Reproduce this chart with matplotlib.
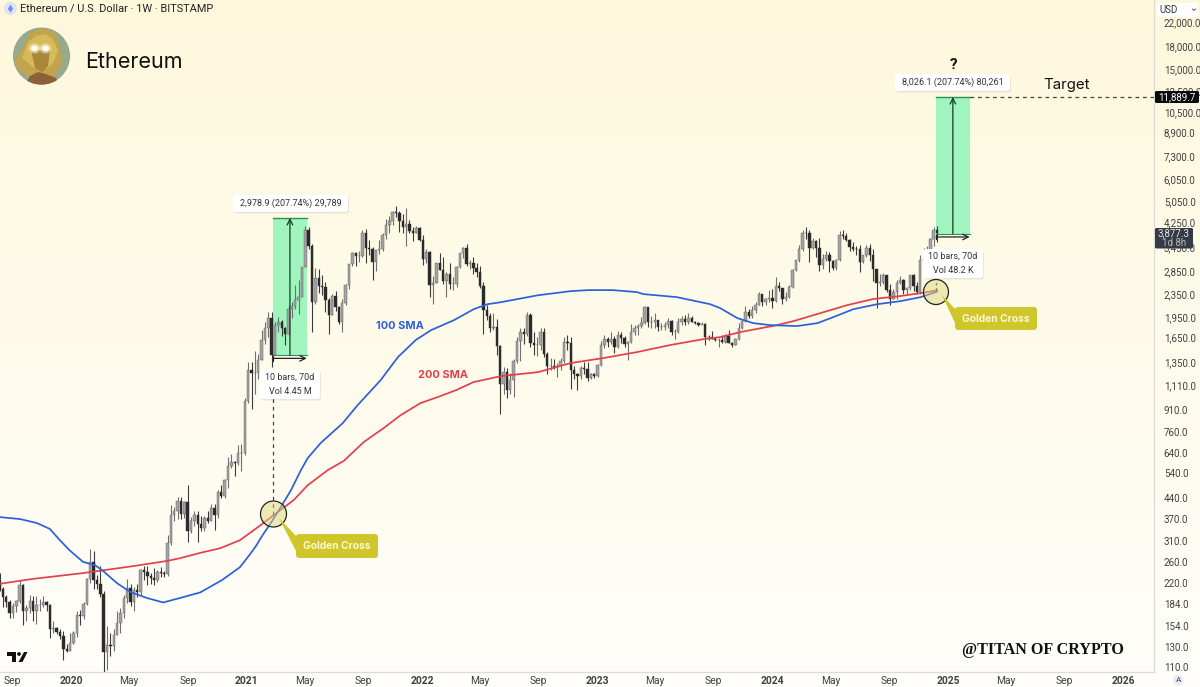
import numpy as np
import pandas as pd
import matplotlib
matplotlib.use("Agg")
import matplotlib.pyplot as plt
import matplotlib.dates as mdates
from matplotlib.patches import Circle, FancyBboxPatch, Polygon, Ellipse
from matplotlib.ticker import FixedLocator, NullLocator

plt.rcParams['font.family'] = ['Roboto', 'DejaVu Sans']

# weekly closes, estimated off the chart
close_2019 = [208,195,187,172,181,189,215,174,178,190,175,183,183,187,183,150,151,147,142,128,126,134]
close_2020 = [146,169,167,184,227,260,224,218,200,124,132,131,143,158,171,194,211,188,207,204,245,240,233,228,225,241,239,236,305,385,395,430,388,428,335,365,385,355,345,375,365,405,385,465,450,510,575,595,590,640,640,975]
close_2021 = [1260,1230,1230,1375,1610,1780,1935,1432,1835,1880,1790,1700,2080,2135,2240,2300,2950,4000,3500,2200,2700,2510,2500,2240,1990,2320,2120,1880,2190,2530,3010,3310,3220,3225,3885,3430,3400,3060,3380,3410,3830,4170,4300,4610,4570,4300,4100,4200,3960,3900,4060,3680]
close_2022 = [3150,3330,2530,2590,3040,2880,2630,2780,2560,2570,2940,3290,3450,3010,3040,2920,2830,2520,2060,1970,1790,1800,1540,1130,1240,1070,1160,1360,1600,1720,1700,1980,1580,1550,1550,1720,1440,1310,1310,1290,1300,1360,1590,1580,1260,1220,1200,1280,1270,1180,1220,1200]
close_2023 = [1320,1550,1630,1590,1630,1520,1690,1640,1560,1590,1730,1780,1820,1860,2120,1870,1880,1900,1800,1800,1830,1890,1720,1720,1880,1920,1870,1930,1880,1860,1830,1850,1660,1650,1630,1620,1620,1590,1670,1580,1550,1630,1780,1890,2040,1960,2060,2160,2350,2200,2270,2290]
close_2024 = [2220,2510,2470,2260,2300,2500,2880,3110,3420,3890,3880,3450,3640,3450,3000,3140,3250,3100,2910,3120,3830,3810,3680,3480,3420,3410,3070,3240,3440,3250,2900,2580,2610,2750,2430,2270,2400,2580,2650,2440,2470,2750,2510,2400,3120,3130,3360,3700,3990,3877.3]

high_2019 = [238,213,198,191,186,191,225,217,183,199,197,197,193,197,190,185,160,153,150,148,133,145]
high_2020 = [148,175,176,187,229,290,285,235,252,205,154,146,150,175,178,198,227,217,212,218,246,253,252,238,248,245,250,243,325,416,410,445,445,430,490,378,395,395,380,380,395,420,420,470,490,515,620,635,600,680,690,1000]
high_2021 = [1345,1350,1475,1440,1760,1870,2040,2040,1880,1945,1900,1800,2150,2200,2545,2640,2950,4120,4080,3560,2910,2890,2750,2600,2290,2360,2420,2140,2260,2550,3020,3330,3340,3370,3980,4020,3660,3460,3380,3660,3890,4380,4470,4670,4870,4670,4550,4780,4330,4080,4120,4100]
high_2022 = [3830,3410,3360,2730,3040,3290,3200,2830,3040,2710,2960,3300,3480,3550,3120,3190,3030,2960,2600,2160,2020,2020,1920,1550,1290,1280,1230,1380,1650,1780,1790,2030,2020,1720,1660,1790,1790,1470,1390,1380,1340,1390,1660,1680,1660,1300,1230,1310,1350,1350,1230,1230]
high_2023 = [1330,1600,1680,1660,1720,1670,1740,1720,1670,1600,1850,1830,1840,1950,2140,2125,1970,2020,1900,1860,1870,1930,1900,1770,1930,1960,1980,2020,1960,1890,1880,1870,1860,1680,1740,1660,1640,1680,1700,1750,1590,1640,1860,1900,2130,2090,2140,2200,2390,2350,2290,2440]
high_2024 = [2450,2715,2600,2480,2400,2540,2890,3130,3520,3990,4090,3980,3730,3680,3730,3280,3350,3340,3130,3150,3950,3980,3890,3720,3620,3490,3520,3260,3520,3560,3400,2790,2780,2800,2760,2560,2460,2640,2730,2670,2500,2760,2770,2610,3240,3450,3500,3740,4090,4110]

low_2019 = [205,180,180,165,165,173,186,155,160,172,160,157,175,180,174,140,146,144,138,117,124,125]
low_2020 = [133,141,155,163,183,220,208,208,195,92,107,120,125,143,145,165,186,181,175,196,198,225,215,217,216,222,230,231,233,300,365,370,370,375,308,330,350,308,335,335,360,365,340,375,440,440,480,565,530,580,550,630]
low_2021 = [960,920,1040,1170,1370,1560,1650,1290,1430,1730,1670,1550,1690,1930,2090,2000,2300,2940,3400,1730,2170,2380,2330,2030,1700,1990,2050,1840,1720,2160,2460,2970,2960,3060,3200,3050,3250,2650,2850,3280,3350,3720,3900,4150,4450,3920,3900,3500,3880,3640,3900,3640]
low_2022 = [3000,3050,2300,2170,2580,2860,2560,2300,2450,2440,2500,2920,3170,2970,2890,2790,2710,2480,1700,1900,1720,1750,1430,880,1040,1000,1040,1010,1340,1360,1560,1670,1530,1430,1420,1490,1410,1220,1260,1270,1190,1260,1340,1490,1080,1170,1070,1170,1220,1150,1170,1180]
low_2023 = [1190,1310,1510,1530,1560,1450,1510,1580,1530,1370,1570,1680,1680,1790,1850,1800,1780,1780,1740,1760,1760,1780,1690,1630,1710,1830,1830,1850,1870,1840,1810,1840,1550,1610,1630,1600,1530,1570,1570,1570,1520,1550,1620,1770,1880,1930,1930,2020,2160,2140,2150,2210]
low_2024 = [2100,2200,2420,2170,2230,2290,2470,2850,3060,3350,3720,3060,3420,3200,2850,2900,3100,2820,2860,2860,3100,3700,3650,3360,3350,3240,2820,3050,3200,3080,2630,2110,2510,2570,2400,2150,2260,2270,2560,2350,2350,2430,2420,2360,2360,3000,3030,3350,3500,3600]

first_open = 222

sma100_dates = ['2019-08-06','2019-09-17','2019-10-22','2019-11-18','2019-12-05','2019-12-29','2020-01-26','2020-02-20','2020-03-08','2020-04-06','2020-05-03','2020-06-07','2020-07-11','2020-08-15','2020-09-26','2020-11-11','2020-12-18','2021-01-08','2021-01-20','2021-02-03','2021-02-20','2021-03-13','2021-04-03','2021-04-24','2021-05-08','2021-06-04','2021-07-20','2021-08-20','2021-10-07','2021-11-12','2021-12-19','2022-01-20','2022-03-09','2022-04-19','2022-05-18','2022-06-15','2022-08-31','2022-11-07','2022-12-13','2023-02-03','2023-03-25','2023-04-07','2023-06-16','2023-08-24','2023-09-14','2023-10-20','2023-11-22','2023-12-27','2024-02-22','2024-04-04','2024-05-07','2024-06-18','2024-08-07','2024-09-24','2024-11-05','2024-12-09']
sma100_vals = [377,371,359,342,317,287,261,254,242,219,204,194,187,194,203,225,250,278,297,325,359,409,470,555,612,693,816,946,1162,1404,1615,1752,1903,2082,2169,2205,2334,2414,2434,2434,2395,2356,2298,2169,2101,1934,1856,1826,1812,1856,1950,2082,2169,2224,2298,2405]
sma200_dates = ['2019-08-06','2019-10-14','2020-01-26','2020-05-09','2020-07-19','2020-08-15','2020-09-26','2020-11-07','2020-12-18','2021-01-30','2021-02-26','2021-04-09','2021-05-08','2021-06-19','2021-07-22','2021-09-02','2021-10-13','2021-11-18','2021-12-29','2022-02-03','2022-03-13','2022-04-19','2022-06-15','2022-08-31','2022-11-07','2023-01-13','2023-03-25','2023-06-02','2023-08-10','2023-09-14','2023-10-26','2024-01-11','2024-02-14','2024-04-10','2024-06-05','2024-07-29','2024-09-24','2024-11-05','2024-12-09']
sma200_vals = [218,227,238,252,263,269,281,292,312,353,383,434,490,555,598,699,783,872,962,1011,1070,1144,1201,1241,1337,1392,1463,1550,1627,1654,1724,1826,1887,2015,2152,2262,2319,2375,2430]

price_ticks = [22000,18000,15000,12500,10500,8900,7300,6050,5050,4250,3450,2850,2350,1950,1650,1350,1110,910,760,640,540,440,370,310,260,220,184,154,130,110]
x_tick_dates = ['2019-09-01','2020-01-01','2020-05-01','2020-09-01','2021-01-01','2021-05-01','2021-09-01','2022-01-01','2022-05-01','2022-09-01','2023-01-01','2023-05-01','2023-09-01','2024-01-01','2024-05-01','2024-09-01','2025-01-01','2025-05-01','2025-09-01','2026-01-01']
x_tick_labels = ['Sep','2020','May','Sep','2021','May','Sep','2022','May','Sep','2023','May','Sep','2024','May','Sep','2025','May','Sep','2026']

# long position tool: start, base price, gain
measure1 = ('2021-02-25', 1425.0, 2978.9)
measure2 = ('2024-12-07', 3863.6, 8026.1)

close = np.array(close_2019 + close_2020 + close_2021 + close_2022 + close_2023 + close_2024, dtype=float)
high = np.array(high_2019 + high_2020 + high_2021 + high_2022 + high_2023 + high_2024, dtype=float)
low = np.array(low_2019 + low_2020 + low_2021 + low_2022 + low_2023 + low_2024, dtype=float)
opn = np.r_[first_open, close[:-1]]
dates = pd.date_range('2019-08-05', periods=len(close), freq='7D')
x = mdates.date2num(dates)

W, H = 1200, 687
fig = plt.figure(figsize=(12, 6.87), dpi=100)

# page gradient
bg = fig.add_axes([0, 0, 1, 1], zorder=0)
top_c = np.array([253, 248, 220]) / 255
bot_c = np.array([255, 254, 250]) / 255
t = np.linspace(0, 1, 256)[:, None, None]
bg.imshow(top_c[None, None, :] * (1 - t) + bot_c[None, None, :] * t, aspect='auto', extent=[0, 1, 0, 1])
bg.axis('off')

ax = fig.add_axes([0, 15 / H, 1154 / W, 672 / H], zorder=1)
ax.patch.set_alpha(0)
ax.set_yscale('log')
ax.set_ylim(105.6, 26400)
ax.set_xlim(mdates.date2num(pd.Timestamp('2019-08-06')), mdates.date2num(pd.Timestamp('2026-03-06')))

# green boxes go below the candles
for start, base, gain in [measure1, measure2]:
    d0 = mdates.date2num(pd.Timestamp(start))
    d1 = d0 + 70
    ax.fill_between([d0, d1], base, base + gain, color='#9ff5bd', lw=0, zorder=1)
    ax.plot([d0, d1], [base + gain, base + gain], color='#2f8f58', lw=1, zorder=2)
    ax.plot([d0, d1], [base, base], color='#2f8f58', lw=0.8, zorder=2)
    ax.annotate('', xy=((d0 + d1) / 2, base + gain), xytext=((d0 + d1) / 2, base),
                arrowprops=dict(arrowstyle='->', color='#143c28', lw=0.9, shrinkA=0, shrinkB=0), zorder=4)
    yb = base * 0.975
    ax.annotate('', xy=(d1, yb), xytext=(d0, yb),
                arrowprops=dict(arrowstyle='->', color='#222222', lw=0.9, shrinkA=0, shrinkB=0), zorder=4)
    ax.plot([d0, d0], [yb * 0.98, yb * 1.02], color='#222222', lw=0.8, zorder=4)

up = close >= opn
ax.vlines(x[up], low[up], high[up], color='#6f6f6f', lw=0.8, zorder=3)
ax.vlines(x[~up], low[~up], high[~up], color='#3a3a3a', lw=0.8, zorder=3)
ax.bar(x[up], close[up] - opn[up], bottom=opn[up], width=5, color='#a3a3a3', edgecolor='#5e5e5e', lw=0.3, zorder=3)
ax.bar(x[~up], opn[~up] - close[~up], bottom=close[~up], width=5, color='#2b2b2b', edgecolor='#2b2b2b', lw=0.3, zorder=3)

ax.plot(mdates.date2num(pd.to_datetime(sma200_dates)), sma200_vals, color='#e2414b', lw=1.25, zorder=5)
ax.plot(mdates.date2num(pd.to_datetime(sma100_dates)), sma100_vals, color='#2e5fd8', lw=1.25, zorder=5)

# target line and the dashed drop from the first box
d_end = mdates.date2num(pd.Timestamp(measure2[0])) + 70
ax.plot([d_end, ax.get_xlim()[1]], [11889.7, 11889.7], color='#444444', lw=0.9, ls=(0, (3, 3)), zorder=4)
d_cross = mdates.date2num(pd.Timestamp(measure1[0]))
ax.plot([d_cross, d_cross], [383, 1250], color='#444444', lw=0.9, ls=(0, (3, 3)), zorder=6)
d_cross2 = mdates.date2num(pd.Timestamp(measure2[0]))
ax.plot([d_cross2, d_cross2], [2430, 2620], color='#444444', lw=0.9, ls=(0, (2, 2)), zorder=6)

ax.yaxis.tick_right()
ax.yaxis.set_major_locator(FixedLocator(price_ticks))
ax.yaxis.set_minor_locator(NullLocator())
ax.set_yticklabels([f'{p:,.1f}' for p in price_ticks], fontsize=7, color='#3f3f3f')
ax.tick_params(axis='y', length=0, pad=7)
ax.set_xticks(mdates.date2num(pd.to_datetime(x_tick_dates)))
ax.set_xticklabels(x_tick_labels, fontsize=7.4, color='#3f3f3f')
ax.tick_params(axis='x', length=0, pad=3)
for lab in ax.get_xticklabels():
    if lab.get_text().isdigit():
        lab.set_fontweight('bold')
for s in ['top', 'left']:
    ax.spines[s].set_visible(False)
ax.spines['right'].set_color('#dcdcd6')
ax.spines['bottom'].set_color('#dcdcd6')
ax.spines['right'].set_linewidth(0.9)
ax.spines['bottom'].set_linewidth(0.9)

# overlay in pixel coordinates for the drawing-tool labels
ov = fig.add_axes([0, 0, 1, 1], zorder=2)
ov.set_xlim(0, W)
ov.set_ylim(H, 0)
ov.axis('off')


def label_box(x0, y0, x1, y1, lines):
    ov.add_patch(FancyBboxPatch((x0 + 1, y0 + 1.5), x1 - x0, y1 - y0, boxstyle='round,pad=0,rounding_size=3',
                                fc='#000000', ec='none', alpha=0.08, zorder=7))
    ov.add_patch(FancyBboxPatch((x0, y0), x1 - x0, y1 - y0, boxstyle='round,pad=0,rounding_size=3',
                                fc='white', ec='none', zorder=8))
    n = len(lines)
    for i, s in enumerate(lines):
        yy = y0 + (y1 - y0) * (2 * i + 1) / (2 * n)
        ov.text((x0 + x1) / 2, yy, s, ha='center', va='center', fontsize=6.5, color='#333333', zorder=9)


label_box(233, 195, 348, 212, ['2,978.9 (207.74%) 29,789'])
label_box(260, 370, 320, 399, ['10 bars, 70d', 'Vol 4.45 M'])
label_box(895, 74, 1010, 91, ['8,026.1 (207.74%) 80,261'])
label_box(923, 249, 983, 278, ['10 bars, 70d', 'Vol 48.2 K'])


def golden(cx, cy, r, bx0, by0, bx1, by1, tip):
    ov.add_patch(Circle((cx, cy), r, fc='#ddd77a', ec='none', alpha=0.5, zorder=6))
    ov.add_patch(Circle((cx, cy), r, fc='none', ec='#222222', lw=0.9, zorder=6))
    ov.add_patch(Polygon([tip, (bx0 + 1, by0 + 3), (bx0 + 1, by1 - 5)], fc='#cfc62b', ec='none', zorder=7))
    ov.add_patch(FancyBboxPatch((bx0, by0), bx1 - bx0, by1 - by0, boxstyle='round,pad=0,rounding_size=3',
                                fc='#cfc62b', ec='none', zorder=7))
    ov.text((bx0 + bx1) / 2, (by0 + by1) / 2, 'Golden Cross', ha='center', va='center', family=['Inter', 'DejaVu Sans'],
            fontsize=7.4, color='#fbf9d2', fontweight='bold', zorder=8)


golden(273.5, 514, 13, 296, 534, 378, 558, (279, 518))
golden(936, 292, 12.5, 955, 307, 1037, 330, (942, 295))

ov.text(400, 326, '100 SMA', color='#2e5fd8', fontsize=7.9, fontweight='bold', family=['Inter', 'DejaVu Sans'],
        ha='center', va='center', zorder=7)
ov.text(443, 375, '200 SMA', color='#e2414b', fontsize=7.9, fontweight='bold', family=['Inter', 'DejaVu Sans'],
        ha='center', va='center', zorder=7)
ov.text(953, 65, '?', color='#111111', fontsize=11, fontweight='bold', ha='center', va='center', zorder=7)
ov.text(1067, 85, 'Target', color='#111111', fontsize=10.8, family=['Inter', 'DejaVu Sans'], ha='center', va='center', zorder=7)

# price badges
ov.add_patch(FancyBboxPatch((1155, 91), 44, 12, boxstyle='round,pad=0,rounding_size=1.5', fc='#0b0b0b', ec='none', zorder=7))
ov.text(1177, 97.2, '11,889.7', color='white', fontsize=7, ha='center', va='center', zorder=8)
ov.add_patch(FancyBboxPatch((1155, 228), 38, 20.5, boxstyle='round,pad=0,rounding_size=1.5', fc='#363a45', ec='none', zorder=7))
ov.text(1174, 233.5, '3,877.3', color='#e6e6e6', fontsize=7, ha='center', va='center', zorder=8)
ov.text(1174, 243, '1d 8h', color='#b9bbc2', fontsize=7, ha='center', va='center', zorder=8)

# header
ov.add_patch(Circle((10.5, 8.5), 5.8, fc='#e4e7fa', ec='#cdd2f2', lw=0.5, zorder=7))
ov.add_patch(Polygon([(10.5, 4.5), (13.2, 8.8), (10.5, 12.8), (7.8, 8.8)], fc='#7d8ee6', ec='none', zorder=8))
ov.text(19.5, 9, 'Ethereum / U.S. Dollar · 1W · BITSTAMP', fontsize=7.9, color='#222222', ha='left', va='center', zorder=8)
ov.text(85, 62, 'Ethereum', fontsize=15.5, family=['Inter', 'DejaVu Sans'], color='#111111', ha='left', va='center', zorder=8)
ov.add_patch(FancyBboxPatch((1157, 3), 41, 14, boxstyle='round,pad=0,rounding_size=3', fc='white', ec='none', zorder=7))
ov.text(1159.5, 10, 'USD', fontsize=7, color='#333333', ha='left', va='center', zorder=8)
ov.plot([1192.5, 1194, 1195.5], [9, 10.5, 9], color='#555555', lw=0.7, zorder=8)
ov.add_patch(Circle((1178, 680), 5.2, fc='#e9ebf3', ec='none', zorder=7))
ov.text(1178, 680.3, 'A', fontsize=5.8, color='#444444', ha='center', va='center', zorder=8)

# avatar
clip = Circle((41.5, 56), 28.7, transform=ov.transData)
parts = [
    (Circle((41.5, 56), 28.7), '#98a98c'),
    (Polygon([(14, 62), (24, 46), (30, 33), (42, 28), (54, 32), (60, 46), (62, 64), (54, 76), (30, 76), (20, 72)]), '#c2a44c'),
    (Polygon([(22, 58), (28, 42), (36, 36), (44, 34), (52, 38), (58, 50), (54, 62), (48, 68), (34, 68)]), '#d6b95a'),
    (Polygon([(31, 50), (50, 50), (48, 66), (42, 72), (35, 68)]), '#a8863a'),
    (Polygon([(24, 86), (30, 76), (38, 72), (46, 74), (56, 78), (60, 86)]), '#8c6038'),
]
for p, c in parts:
    p.set_facecolor(c)
    p.set_edgecolor('none')
    p.set_zorder(7)
    ov.add_patch(p)
    p.set_clip_path(clip)
for ex in (34.5, 45.5):
    ov.add_patch(Ellipse((ex, 48.5), 12, 10, fc='#fff3c4', ec='none', alpha=0.5, zorder=8))
    ov.add_patch(Ellipse((ex, 48.5), 7, 6, fc='#fffdf2', ec='none', zorder=8))

# chart logo
ov.add_patch(Polygon([(7, 652), (16, 652), (16, 662), (12, 662), (12, 656), (7, 656)], fc='#111111', ec='none', zorder=8))
ov.add_patch(Circle((19, 654), 1.9, fc='#111111', ec='none', zorder=8))
ov.add_patch(Polygon([(24, 652), (27.5, 652), (22.5, 662), (18.5, 662)], fc='#111111', ec='none', zorder=8))

ov.text(1124, 650, '@TITAN OF CRYPTO', family=['Liberation Serif', 'DejaVu Serif'], fontweight='bold', fontsize=11.6,
        color='#111111', ha='right', va='center', zorder=8)

fig.savefig('out.png', dpi=100)
